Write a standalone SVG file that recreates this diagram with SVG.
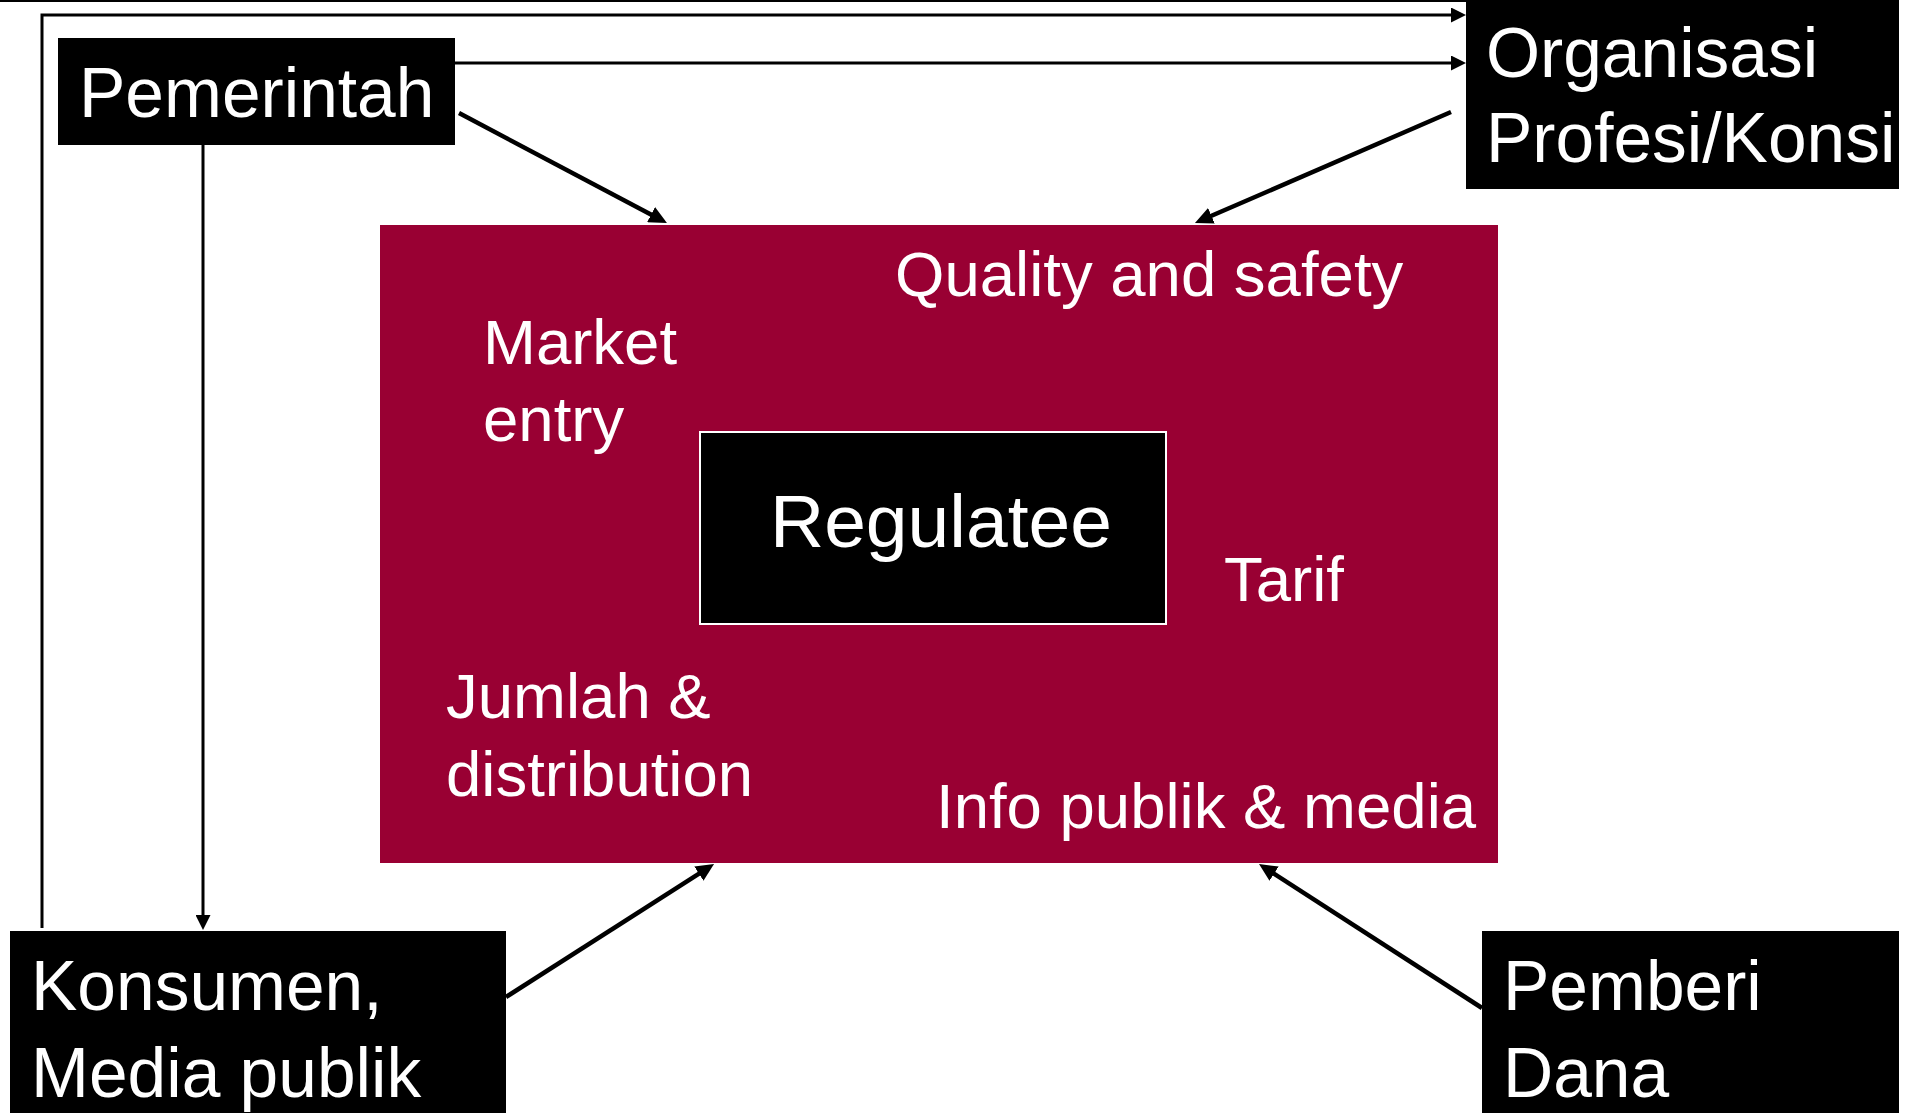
<svg xmlns="http://www.w3.org/2000/svg" width="1915" height="1113" viewBox="0 0 1915 1113">
<style>
.node{fill:#000000}
.lbl{font-family:"Liberation Sans",Arial,sans-serif;fill:#ffffff}
.big{font-size:69.5px}
.mid{font-size:63.5px}
.thin{stroke:#000;stroke-width:3;fill:none}
.thick{stroke:#000;stroke-width:4.5;fill:none}
</style>
<defs>
<marker id="arr" markerUnits="userSpaceOnUse" markerWidth="15" markerHeight="15" refX="7" refY="7.5" orient="auto"><path d="M0,0 L15,7.5 L0,15 z" fill="#000"/></marker>
<marker id="arrB" markerUnits="userSpaceOnUse" markerWidth="18" markerHeight="17" refX="10" refY="8.5" orient="auto"><path d="M0,0 L18,8.5 L0,17 z" fill="#000"/></marker>
</defs>
<rect width="1915" height="1113" fill="#ffffff"/>
<g id="area">
<rect x="380" y="225" width="1118" height="638" fill="#990033"/>
<text class="lbl mid" x="895" y="296">Quality and safety</text>
<text class="lbl mid" x="483" y="364">Market</text>
<text class="lbl mid" x="483" y="441">entry</text>
<text class="lbl mid" x="1224" y="601">Tarif</text>
<text class="lbl mid" x="446" y="718">Jumlah &amp;</text>
<text class="lbl mid" x="936" y="828">Info publik &amp; media</text>
<text class="lbl mid" x="446" y="796">distribution</text>
</g>
<g id="regulatee">
<rect x="700" y="432" width="466" height="192" fill="#000" stroke="#ffffff" stroke-width="2"/>
<text class="lbl" font-size="75" x="770" y="547">Regulatee</text>
</g>
<g id="pemerintah">
<rect class="node" x="58" y="38" width="397" height="107"/>
<text class="lbl big" x="79" y="117">Pemerintah</text>
</g>
<g id="organisasi">
<rect class="node" x="1466" y="0" width="433" height="189"/>
<text class="lbl big" x="1486" y="77">Organisasi</text>
<text class="lbl big" x="1486" y="162">Profesi/Konsi</text>
</g>
<g id="konsumen">
<rect class="node" x="10" y="931" width="496" height="182"/>
<text class="lbl big" x="31" y="1010">Konsumen,</text>
<text class="lbl big" x="31" y="1097">Media publik</text>
</g>
<g id="pemberi">
<rect class="node" x="1482" y="931" width="417" height="182"/>
<text class="lbl big" x="1503" y="1010">Pemberi</text>
<text class="lbl big" x="1503" y="1097">Dana</text>
</g>
<g id="connectors">
<line x1="0" y1="1" x2="1466" y2="1" stroke="#000" stroke-width="2"/>
<path class="thin" d="M42,928 V15 H1458" marker-end="url(#arr)"/>
<path class="thin" d="M455,63 H1458" marker-end="url(#arr)"/>
<path class="thin" d="M203,145 V922" marker-end="url(#arr)"/>
<path class="thick" d="M459,113 L659.9,219.3" marker-end="url(#arrB)"/>
<path class="thick" d="M1451,112 L1202.3,219.8" marker-end="url(#arrB)"/>
<path class="thick" d="M506,997 L707.3,868.3" marker-end="url(#arrB)"/>
<path class="thick" d="M1482,1008 L1265.7,868.3" marker-end="url(#arrB)"/>
</g>
</svg>
